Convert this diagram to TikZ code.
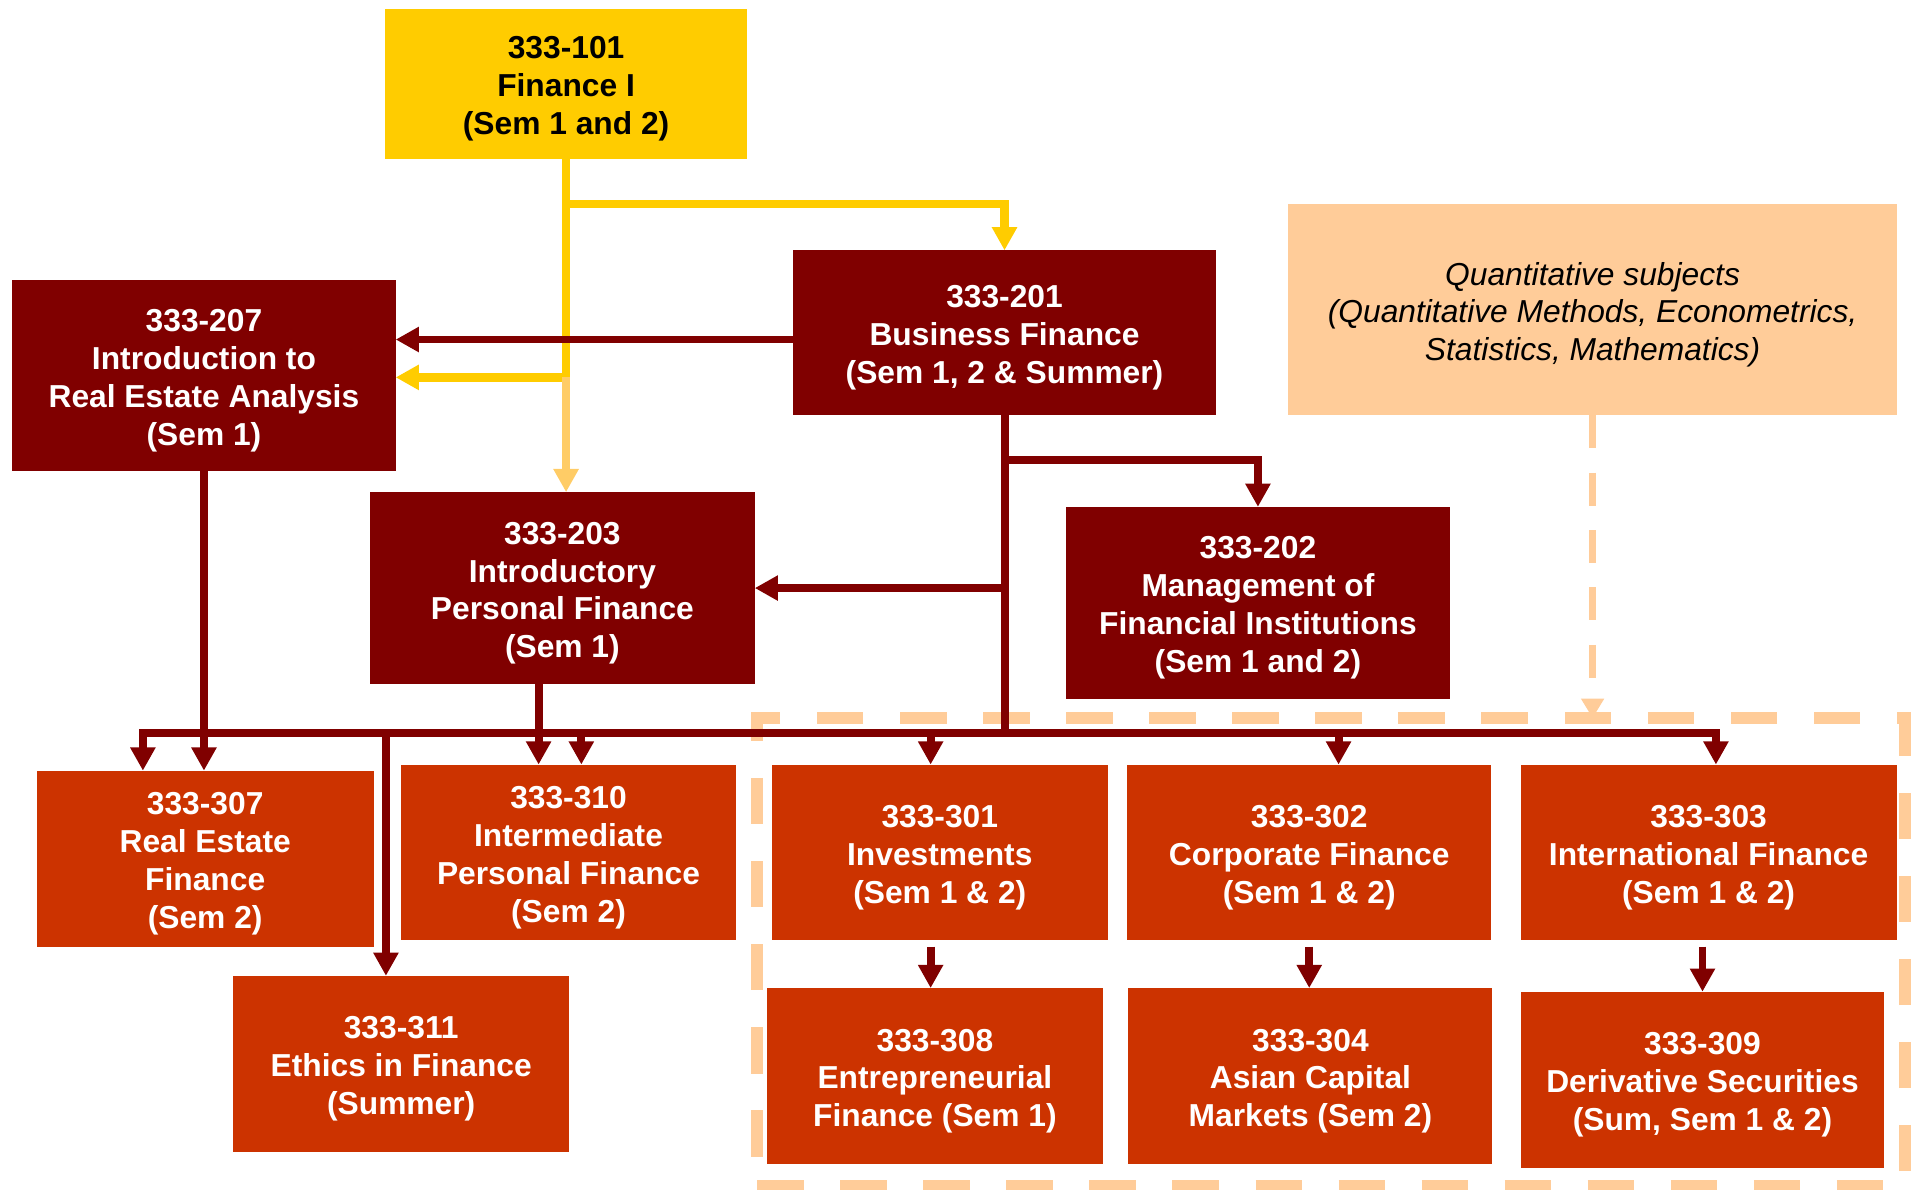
\documentclass[tikz,border=0pt]{standalone}
\usepackage{fontspec}
\setmainfont{Liberation Sans}
\usetikzlibrary{arrows.meta,calc}
\definecolor{darkred}{HTML}{800000}
\definecolor{rust}{HTML}{CC3300}
\definecolor{gold}{HTML}{FFCC00}
\definecolor{peach}{HTML}{FFCC99}
\definecolor{lightgold}{HTML}{FFCC66}
\begin{document}
\begin{tikzpicture}[x=0.5pt,y=-0.5pt,
  box/.style={inner sep=0pt, outer sep=0pt},
  txt/.style={inner sep=0pt, outer sep=0pt, align=center, yshift=-2.1pt,
    font={\fontsize{13pt}{15.5pt}\selectfont\bfseries}, text=white},
  btxt/.style={txt, text=black},
  qtxt/.style={txt, text=black, font={\fontsize{13pt}{15.5pt}\selectfont\itshape}},
  lvltwo/.style={box, fill=darkred, minimum height=78.5pt},
  lvlthree/.style={box, fill=rust, minimum height=72pt},
  tip/.style={-{Triangle[width=9.8pt,length=9.5pt]}},
  con/.style={line width=3.25pt, draw=darkred, tip},
  ycon/.style={line width=3.5pt, draw=gold, tip},
  lycon/.style={line width=3.5pt, draw=lightgold, tip},
  zonestyle/.style={draw=peach, line width=5pt, dash pattern=on 19pt off 15pt,
    inner sep=0pt, outer sep=0pt},
  qcon/.style={draw=peach, line width=3pt, dash pattern=on 13.5pt off 10pt,
    -{Triangle[width=9pt,length=8pt]}}
]
\useasboundingbox (0,0) rectangle (1568,974);

% dashed zone
\node[zonestyle, minimum width=470pt, minimum height=191.5pt] (zone) at (1090,779.5) {};

% top
\node[box, fill=gold, minimum width=148.5pt, minimum height=61.5pt,
  label={[btxt]center:{333-101\\Finance I\\(Sem 1 and 2)}}] (n101) at (463.5,68.5) {};

% second level
\node[lvltwo, minimum width=173.5pt, minimum height=67.5pt,
  label={[txt]center:{333-201\\Business Finance\\(Sem 1, 2 \& Summer)}}] (n201) at (822.5,272.5) {};
\node[lvltwo, minimum width=157pt,
  label={[txt]center:{333-207\\Introduction to\\Real Estate Analysis\\(Sem 1)}}] (n207) at (167,307.5) {};
\node[lvltwo, minimum width=157.5pt,
  label={[txt]center:{333-203\\Introductory\\Personal Finance\\(Sem 1)}}] (n203) at (460.5,481.5) {};
\node[lvltwo, minimum width=157pt,
  label={[txt]center:{333-202\\Management of\\Financial Institutions\\(Sem 1 and 2)}}] (n202) at (1030,493.5) {};

% quantitative
\node[box, fill=peach, minimum width=249pt, minimum height=86.5pt,
  label={[qtxt]center:{Quantitative subjects\\(Quantitative Methods, Econometrics,\\Statistics, Mathematics)}}] (quant) at (1304,253.5) {};

% third level
\node[lvlthree, minimum width=138pt,
  label={[txt]center:{333-307\\Real Estate\\Finance\\(Sem 2)}}] (n307) at (168,703) {};
\node[lvlthree, minimum width=137.5pt,
  label={[txt]center:{333-310\\Intermediate\\Personal Finance\\(Sem 2)}}] (n310) at (465.5,698) {};
\node[lvlthree, minimum width=137.5pt,
  label={[txt]center:{333-311\\Ethics in Finance\\(Summer)}}] (n311) at (328.5,871) {};
\node[lvlthree, minimum width=137.5pt,
  label={[txt]center:{333-301\\Investments\\(Sem 1 \& 2)}}] (n301) at (769.5,698) {};
\node[lvlthree, minimum width=149pt,
  label={[txt]center:{333-302\\Corporate Finance\\(Sem 1 \& 2)}}] (n302) at (1072,698) {};
\node[lvlthree, minimum width=154pt,
  label={[txt]center:{333-303\\International Finance\\(Sem 1 \& 2)}}] (n303) at (1399,698) {};
\node[lvlthree, minimum width=137.5pt,
  label={[txt]center:{333-308\\Entrepreneurial\\Finance (Sem 1)}}] (n308) at (765.5,881) {};
\node[lvlthree, minimum width=149pt,
  label={[txt]center:{333-304\\Asian Capital\\Markets (Sem 2)}}] (n304) at (1073,881) {};
\node[lvlthree, minimum width=149pt,
  label={[txt]center:{333-309\\Derivative Securities\\(Sum, Sem 1 \& 2)}}] (n309) at (1394,884) {};

% helper coordinates
\coordinate (yj1) at (463.5,167);
\coordinate (yj2) at (463.5,309);
\coordinate (r1) at (649,278);
\coordinate (bus) at (822.5,600);
\coordinate (k117) at (117,600);
\coordinate (k316) at (316,600);
\coordinate (k441) at (441,560);
\coordinate (k476) at (476,600);
\coordinate (k762) at (762,600);
\coordinate (k1096) at (1096,600);
\coordinate (k1405) at (1405,600);
\coordinate (b377) at (822.5,377);

% quantitative dashed arrow
\draw[qcon] (quant.south) -- (quant.south |- zone.north);

% yellow connectors
\draw[ycon] (n101.south) -- (yj1) -| (n201.north);
\draw[ycon] (n101.south) -- (yj2) -- (yj2 -| n207.east);
\draw[lycon] (yj2) -- (yj2 |- n203.north);

% dark red connectors
\draw[con] (r1) -- (r1 -| n207.east);
\draw[con] (n201.south) -- (bus) -| (k117 |- n307.north);
\draw[con] (bus) -| (k1405 |- n303.north);
\draw[con] (b377) -| (n202.north);
\draw[con] (n203.east -| n201.south) -- (n203.east);
\draw[con] (n207.south) -- (n207.south |- n307.north);
\draw[con] (k441) -- (k441 |- n310.north);
\draw[con] (k476) -- (k476 |- n310.north);
\draw[con] (k316) -- (k316 |- n311.north);
\draw[con] (k762) -- (k762 |- n301.north);
\draw[con] (k1096) -- (k1096 |- n302.north);
\draw[con, shorten <=2.5pt] (k762 |- n301.south) -- (k762 |- n308.north);
\draw[con, shorten <=2.5pt] (n302.south) -- (n302.south |- n304.north);
\draw[con, shorten <=2.5pt] (n309.north |- n303.south) -- (n309.north);
\end{tikzpicture}
\end{document}
